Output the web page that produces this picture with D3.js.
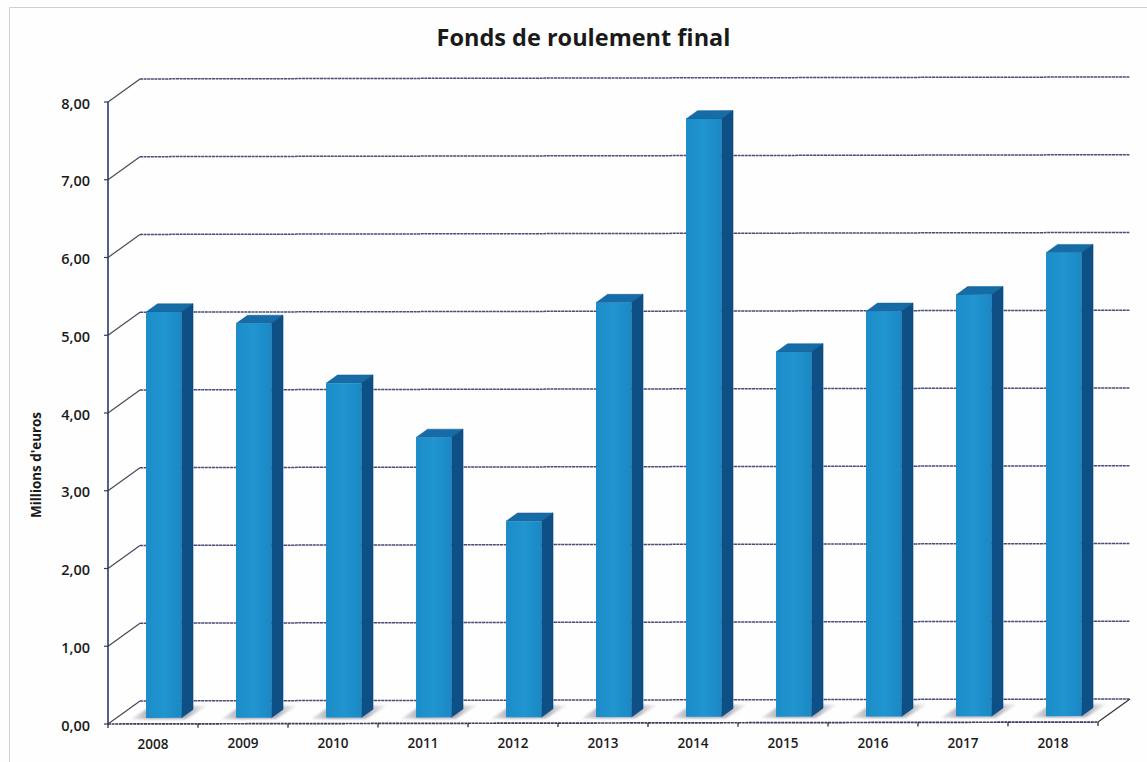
<!DOCTYPE html>
<html><head><meta charset="utf-8">
<script src="https://cdn.jsdelivr.net/npm/d3@7"></script>
<style>html,body{margin:0;padding:0;background:#fefefe}svg{display:block}text{font-family:"Open Sans",sans-serif;fill:#1a1a1a}</style>
</head><body><svg id="c" width="1147" height="762"></svg>
<script>
const years=["2008","2009","2010","2011","2012","2013","2014","2015","2016","2017","2018"];
const values=[5.22,5.07,4.30,3.60,2.52,5.33,7.69,4.69,5.21,5.42,5.96];
const yTicks=[0,1,2,3,4,5,6,7,8];
const chartTitle="Fonds de roulement final";
const yTitle="Millions d'euros";

const svg=d3.select("#c");
const x=d3.scaleBand().domain(years).range([108,1098]);
const y=d3.scaleLinear().domain([0,8]).range([724,102]);
const tilt=0.002;
// oblique projection: d is depth (0 = front, 1 = back wall)
const P=(px,v,d)=>{const X=px+32*d;return [X,y(v)-23*d-(X-108)*tilt];};
const poly=pts=>"M"+pts.map(p=>p.join(",")).join("L")+"Z";

const defs=svg.append("defs");
defs.append("filter").attr("id","blur").attr("x","-30%").attr("y","-60%").attr("width","160%").attr("height","220%")
  .append("feGaussianBlur").attr("stdDeviation",1.3);
const gf=defs.append("linearGradient").attr("id","front").attr("x1",0).attr("x2",1).attr("y1",0).attr("y2",0);
gf.append("stop").attr("offset",0).attr("stop-color","#1c8cc8");
gf.append("stop").attr("offset",.5).attr("stop-color","#2095d0");
gf.append("stop").attr("offset",1).attr("stop-color","#1a88c4");
const gs=defs.append("linearGradient").attr("id","shadow").attr("x1",0).attr("x2",1).attr("y1",0).attr("y2",0);
gs.append("stop").attr("offset",0).attr("stop-color","#c0c0c8").attr("stop-opacity",.35);
gs.append("stop").attr("offset",.25).attr("stop-color","#a8a8b4");
gs.append("stop").attr("offset",.75).attr("stop-color","#b4b4be");
gs.append("stop").attr("offset",1).attr("stop-color","#d4d4da").attr("stop-opacity",.25);

// page frame
svg.append("path").attr("d","M9.5,762V7.5H1147").attr("fill","none").attr("stroke","#cfcfd8").attr("stroke-width",1);

// gridlines on side wall and back wall
const grid=svg.append("g").attr("fill","none");
grid.selectAll("path.side").data(yTicks).join("path").attr("class","side")
  .attr("d",v=>d3.line()([P(108,v,0),P(108,v,1)]))
  .attr("stroke","#4a4a55").attr("stroke-width",1.2);
grid.selectAll("path.back").data(yTicks).join("path").attr("class","back")
  .attr("d",v=>d3.line()([P(108,v,1),P(1098,v,1)]))
  .attr("stroke","#4a4a78").attr("stroke-width",1.5).attr("stroke-dasharray","3 .6");
// floor
grid.append("path").attr("d",d3.line()([P(1098,0,0),P(1098,0,1)])).attr("stroke","#333").attr("stroke-width",1.2);
grid.append("path").attr("d",d3.line()([P(108,0,0),P(1098,0,0)])).attr("stroke","#3a3a5e").attr("stroke-width",1.7).attr("stroke-dasharray","3 .6");

// axes
svg.append("path").attr("d",d3.line()([[108,y(0)],[108,y(8)]])).attr("stroke","#2a3a66").attr("stroke-width",1.6);
svg.append("g").selectAll("path").data(yTicks).join("path")
  .attr("d",v=>d3.line()([[104,y(v)],[108,y(v)]])).attr("stroke","#2a3a66").attr("stroke-width",1.2);
const xEdges=years.map(d=>x(d)).concat([x.range()[1]]);
svg.append("g").selectAll("path").data(xEdges).join("path")
  .attr("d",e=>d3.line()([[e,y(0)-(e-108)*tilt],[e,y(0)+4-(e-108)*tilt]])).attr("stroke","#222").attr("stroke-width",1.2);

// bars
const bw=35.5,dA=.26,dB=.62;
const bars=svg.append("g").selectAll("g").data(years.map((yr,i)=>({yr,v:values[i]}))).join("g");
const bl=d=>x(d.yr)+x.bandwidth()/2-15.3;
bars.append("path").attr("filter","url(#blur)").attr("fill","url(#shadow)")
  .attr("d",d=>{const l=bl(d);return poly([P(l-13,0,.2),P(l+bw+5.9,0,.2),P(l+bw+9.3,0,.78),P(l-11.7,0,.78)]);});
bars.append("path").attr("fill","#156ca6").attr("stroke","#125d92").attr("stroke-width",.5)
  .attr("d",d=>{const l=bl(d);return poly([P(l,d.v,dA),P(l+bw,d.v,dA),P(l+bw,d.v,dB),P(l,d.v,dB)]);});
bars.append("path").attr("fill","#0e4f86").attr("stroke","#0b4272").attr("stroke-width",.5)
  .attr("d",d=>{const l=bl(d);return poly([P(l+bw,0,dA),P(l+bw,d.v,dA),P(l+bw,d.v,dB),P(l+bw,0,dB)]);});
bars.append("path").attr("fill","url(#front)")
  .attr("d",d=>{const l=bl(d);return poly([P(l,0,dA),P(l+bw,0,dA),P(l+bw,d.v,dA),P(l,d.v,dA)]);});

// labels
svg.append("g").selectAll("text").data(yTicks).join("text")
  .attr("x",90).attr("y",v=>y(v)+6.5).attr("text-anchor","end")
  .attr("font-size",14.5).attr("font-weight",600)
  .text(v=>d3.format(".2f")(v).replace(".",","));
svg.append("g").selectAll("text").data(years).join("text")
  .attr("x",d=>x(d)+x.bandwidth()/2).attr("y",d=>748.5-(x(d)-108)*.001).attr("text-anchor","middle")
  .attr("font-size",13.5).attr("font-weight",600).text(d=>d);
svg.append("text").attr("transform","translate(41,465) rotate(-90)").attr("text-anchor","middle")
  .attr("font-size",13.4).attr("font-weight",700).text(yTitle);
svg.append("text").attr("x",583.5).attr("y",46).attr("text-anchor","middle")
  .attr("font-size",23.5).attr("font-weight",700).text(chartTitle);
</script></body></html>
